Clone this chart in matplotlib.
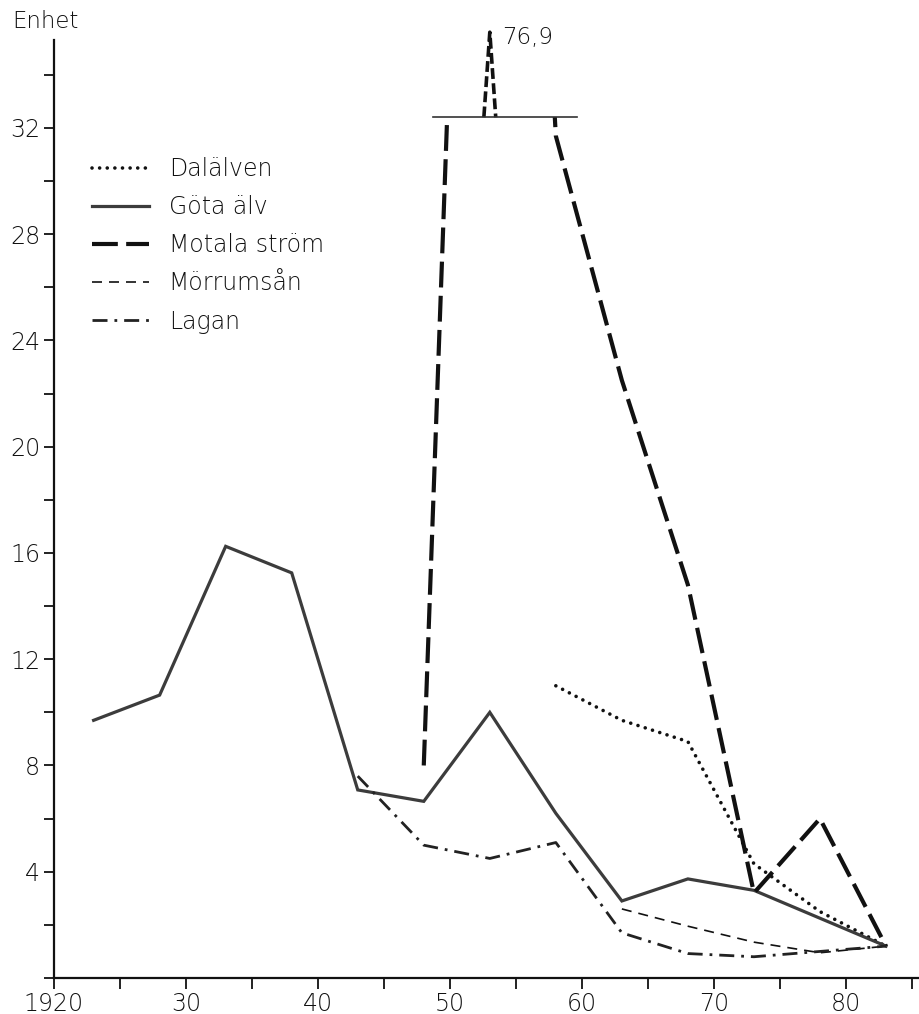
import matplotlib
matplotlib.use("Agg")
import matplotlib.pyplot as plt
from matplotlib.patches import Rectangle
import numpy as np

plt.rcParams['font.family'] = ['DejaVu Sans']
plt.rcParams['font.weight'] = 'light'

# Measurement years and series values (Enhet)
years_gota = [1923, 1928, 1933, 1938, 1943, 1948, 1953, 1958, 1963, 1968, 1973, 1978, 1983]
gota = [9.7, 10.65, 16.25, 15.25, 7.08, 6.65, 10.0, 6.2, 2.9, 3.73, 3.3, 2.25, 1.2]

years_motala = [1948, 1953, 1958, 1963, 1968, 1973, 1978, 1983]
motala = [8.0, 76.9, 31.7, 22.5, 14.8, 3.2, 6.0, 1.2]

years_dal = [1958, 1963, 1968, 1973, 1978, 1983]
dalalven = [11.0, 9.7, 8.9, 4.3, 2.5, 1.2]

years_morrum = [1963, 1968, 1973, 1978, 1983]
morrum = [2.6, 1.95, 1.35, 0.95, 1.2]

years_lagan = [1943, 1948, 1953, 1958, 1963, 1968, 1973, 1978, 1983]
lagan = [7.6, 5.0, 4.5, 5.1, 1.7, 0.92, 0.8, 1.0, 1.2]

labels = ['Dalälven', 'Göta älv', 'Motala ström', 'Mörrumsån', 'Lagan']
xtick_years = list(range(1920, 1990, 5))
xtick_labels = ['1920' if y == 1920 else (str(y % 100) if y % 10 == 0 else '') for y in xtick_years]
ytick_major = list(range(4, 36, 4))
ytick_minor = [0] + list(range(2, 36, 4))

# Axis break level for the Motala ström peak
cap = 32.4
peak_scale = 0.072

fig = plt.figure(figsize=(9.19, 10.14), dpi=100)
ax = fig.add_axes([54 / 919, 36 / 1014, 865 / 919, 951 / 1014])
ax.set_xlim(1920, 1985.5)
ax.set_ylim(0, 35.8)

ink = '#111111'

ld, = ax.plot(years_dal, dalalven, color=ink, lw=2.6, linestyle=(0, (0.01, 2.1)),
              dash_capstyle='round', label=labels[0])
lg, = ax.plot(years_gota, gota, color='#3c3c3c', lw=2.3, solid_joinstyle='miter',
              label=labels[1])
lm, = ax.plot(years_motala, motala, color=ink, lw=3.0, linestyle=(0, (6.2, 2.0)),
              label=labels[2])
lm.set_clip_path(Rectangle((1900, -5), 200, cap + 5, transform=ax.transData))
lr, = ax.plot(years_morrum, morrum, color=ink, lw=1.2, linestyle=(0, (6.0, 4.2)),
              label=labels[3])
ll, = ax.plot(years_lagan, lagan, color='#222222', lw=2.0,
              linestyle=(0, (5.4, 2.5, 1.0, 2.5)), label=labels[4])

# Compressed spike above the break for the peak value
i_peak = int(np.argmax(motala))
peak_year = years_motala[i_peak]
peak_val = motala[i_peak]
spike_top = cap + (peak_val - cap) * peak_scale
ax.plot([peak_year - 0.45, peak_year, peak_year + 0.45], [cap, spike_top, cap],
        color=ink, lw=2.6, linestyle=(0, (3.0, 1.2)), clip_on=False)
ax.plot([1948.7, 1959.6], [cap, cap], color='#333333', lw=1.2)
ax.text(peak_year + 0.9, spike_top - 0.2, f"{peak_val:.1f}".replace('.', ','),
        fontsize=16.5, ha='left', va='center', color=ink)

# Axes styling
for s in ['top', 'right']:
    ax.spines[s].set_visible(False)
ax.spines['left'].set_linewidth(1.6)
ax.spines['bottom'].set_linewidth(1.6)
ax.spines['left'].set_bounds(0, 35.3)
ax.spines['left'].set_color(ink)
ax.spines['bottom'].set_color(ink)

ax.set_xticks(xtick_years)
ax.set_xticklabels(xtick_labels)
ax.set_yticks(ytick_major)
ax.set_yticklabels([str(v) for v in ytick_major])
ax.set_yticks(ytick_minor, minor=True)
ax.tick_params(axis='x', length=8, width=1.3, direction='out', labelsize=17, pad=2, colors=ink)
ax.tick_params(axis='y', which='major', length=7, width=1.3, direction='out', labelsize=17,
               pad=3, colors=ink)
ax.tick_params(axis='y', which='minor', length=7, width=1.3, direction='out', colors=ink)

fig.text(12 / 919, 1 - 21 / 1014, 'Enhet', fontsize=16.5, ha='left', va='center', color=ink)

leg = ax.legend(handles=[ld, lg, lm, lr, ll], loc='upper left',
                bbox_to_anchor=((92 - 54) / 865, (978 - 157) / 951),
                frameon=False, fontsize=17, handlelength=2.4, handletextpad=0.85,
                labelspacing=0.6, borderpad=0, borderaxespad=0)
for t in leg.get_texts():
    t.set_color(ink)

fig.savefig('out.png', dpi=100)
